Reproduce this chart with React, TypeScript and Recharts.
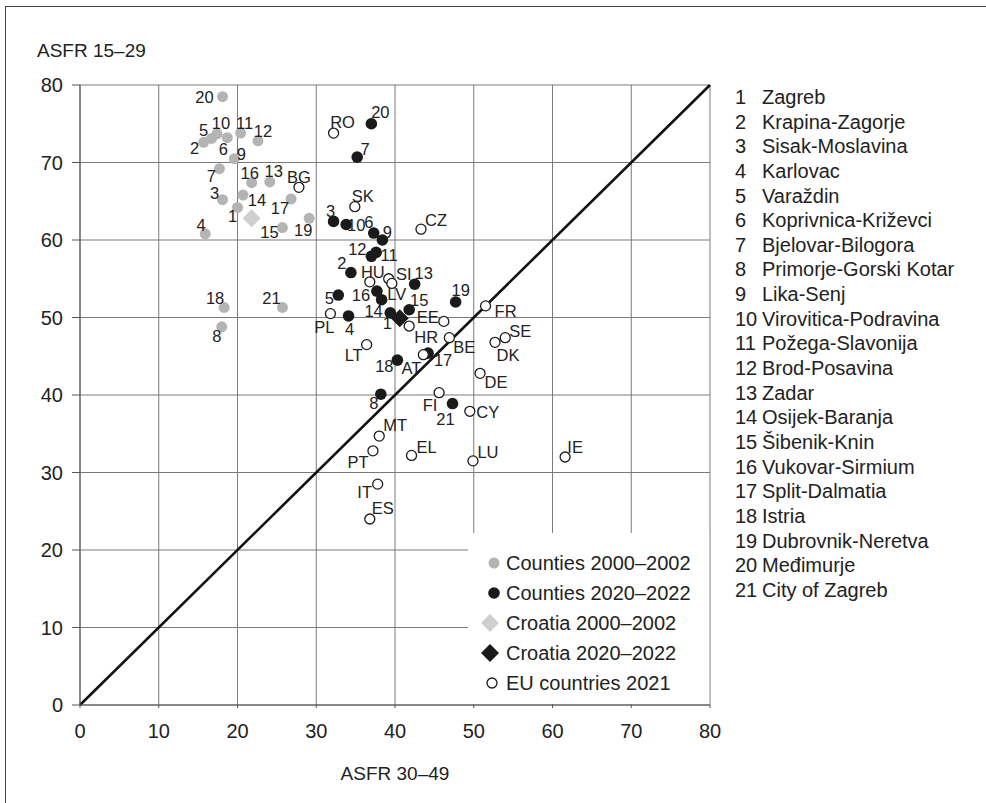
import React from 'react';
import { CartesianGrid, ReferenceLine, Scatter, ScatterChart, XAxis, YAxis } from 'recharts';

const FONT = '"Liberation Sans", Arial, Helvetica, sans-serif';

// counties, numbered 1..21 in this order
const countyNames = [
  'Zagreb', 'Krapina-Zagorje', 'Sisak-Moslavina', 'Karlovac', 'Varaždin',
  'Koprivnica-Križevci', 'Bjelovar-Bilogora', 'Primorje-Gorski Kotar', 'Lika-Senj',
  'Virovitica-Podravina', 'Požega-Slavonija', 'Brod-Posavina', 'Zadar', 'Osijek-Baranja',
  'Šibenik-Knin', 'Vukovar-Sirmium', 'Split-Dalmatia', 'Istria', 'Dubrovnik-Neretva',
  'Međimurje', 'City of Zagreb'
];

// ASFR 30–49 (x) and ASFR 15–29 (y), counties 2000–2002
const asfr3049Old = [20.0, 15.7, 18.1, 15.9, 16.7, 18.7, 17.7, 18.0, 19.6, 17.4, 20.4, 22.6, 24.1, 20.7, 25.7, 21.8, 26.8, 18.3, 29.1, 18.1, 25.7];
const asfr1529Old = [64.2, 72.6, 65.2, 60.8, 73.1, 73.2, 69.2, 48.8, 70.5, 73.7, 73.8, 72.8, 67.5, 65.8, 61.6, 67.4, 65.3, 51.3, 62.8, 78.5, 51.3];

// counties 2020–2022
const asfr3049New = [39.4, 34.4, 32.2, 34.1, 32.8, 37.3, 35.2, 38.2, 38.4, 33.8, 37.6, 37.0, 42.5, 38.3, 41.8, 37.7, 44.2, 40.3, 47.7, 37.0, 47.3];
const asfr1529New = [50.6, 55.8, 62.4, 50.2, 52.9, 60.9, 70.7, 40.1, 60.0, 62.0, 58.4, 57.9, 54.3, 52.3, 51.0, 53.4, 45.4, 44.5, 52.0, 75.0, 38.9];

// Croatia totals
const croatiaOld = { x: 21.8, y: 62.8 };
const croatiaNew = { x: 40.6, y: 49.9 };

// EU countries 2021
const euCodes = ['RO', 'BG', 'SK', 'CZ', 'HU', 'SI', 'LV', 'PL', 'EE', 'HR', 'FR', 'BE', 'SE', 'DK', 'LT', 'AT', 'DE', 'FI', 'CY', 'MT', 'PT', 'EL', 'LU', 'IE', 'IT', 'ES'];
const euAsfr3049 = [32.2, 27.8, 34.9, 43.3, 36.8, 39.2, 39.6, 31.8, 46.2, 41.8, 51.5, 46.9, 54.0, 52.7, 36.4, 43.6, 50.8, 45.6, 49.5, 38.0, 37.2, 42.1, 49.9, 61.6, 37.8, 36.8];
const euAsfr1529 = [73.8, 66.8, 64.3, 61.4, 54.6, 55.0, 54.4, 50.5, 49.5, 48.9, 51.5, 47.4, 47.4, 46.8, 46.5, 45.2, 42.8, 40.3, 37.9, 34.7, 32.8, 32.2, 31.5, 32.0, 28.5, 24.0];

const ticks = [0, 10, 20, 30, 40, 50, 60, 70, 80];

// where each point label sits relative to its marker (px)
const oldLabelPos: Record<string, [number, number]> = {
  '1': [-5, 9], '2': [-9, 6], '3': [-8, -7], '4': [-4, -9], '5': [-8, -8], '6': [-4, 11],
  '7': [-8, 7], '8': [-5, 9], '9': [7, -5], '10': [4, -11], '11': [4, -10], '12': [5, -10],
  '13': [4, -11], '14': [14, 5], '15': [-13, 4], '16': [-2, -10], '17': [-11, 9], '18': [-9, -9],
  '19': [-6, 12], '20': [-18, 0], '21': [-11, -9]
};
const newLabelPos: Record<string, [number, number]> = {
  '1': [-3, 10], '2': [-9, -10], '3': [-3, -10], '4': [1, 13], '5': [-9, 3], '6': [-5, -11],
  '7': [8, -8], '8': [-7, 9], '9': [5, -8], '10': [10, 0], '11': [13, 3], '12': [-14, -7],
  '13': [9, -11], '14': [-8, 11], '15': [10, -10], '16': [-16, 4], '17': [15, 7], '18': [-13, 6],
  '19': [5, -12], '20': [9, -12], '21': [-7, 15]
};
const euLabelPos: Record<string, [number, number]> = {
  RO: [9, -11], BG: [0, -10], SK: [8, -11], CZ: [15, -9], HU: [3, -10], SI: [15, -5],
  LV: [5, 11], PL: [-6, 13], EE: [-16, -4], HR: [17, 11], FR: [20, 5], BE: [15, 9],
  SE: [15, -7], DK: [13, 13], LT: [-13, 10], AT: [-12, 13], DE: [16, 9], FI: [-9, 12],
  CY: [18, 1], MT: [16, -11], PT: [-15, 11], EL: [15, -8], LU: [15, -9], IE: [10, -10],
  IT: [-13, 8], ES: [13, -11]
};

const countiesOld = asfr3049Old.map((x, i) => ({ x, y: asfr1529Old[i], label: String(i + 1) }));
const countiesNew = asfr3049New.map((x, i) => ({ x, y: asfr1529New[i], label: String(i + 1) }));
const euCountries = euAsfr3049.map((x, i) => ({ x, y: euAsfr1529[i], label: euCodes[i] }));

const GREY = '#b4b4b4';
const BLACK = '#1a1a1a';

function pointLabel(cx: number, cy: number, text: string, pos?: [number, number]) {
  if (!pos) return null;
  return (
    <text
      x={cx + pos[0]}
      y={cy + pos[1]}
      textAnchor='middle'
      dominantBaseline='central'
      fontSize={16.5}
      fontFamily={FONT}
      fill='#222'
    >
      {text}
    </text>
  );
}

const dotShape = (fill: string, r: number, labels: Record<string, [number, number]>) => (props: any) => {
  const { cx, cy, payload } = props;
  return (
    <g>
      <circle cx={cx} cy={cy} r={r} fill={fill} />
      {pointLabel(cx, cy, payload.label, labels[payload.label])}
    </g>
  );
};

const openShape = (props: any) => {
  const { cx, cy, payload } = props;
  return (
    <g>
      <circle cx={cx} cy={cy} r={5} fill='#fff' stroke={BLACK} strokeWidth={1.3} />
      {pointLabel(cx, cy, payload.label, euLabelPos[payload.label])}
    </g>
  );
};

const diamondShape = (fill: string) => (props: any) => {
  const { cx, cy } = props;
  const h = 9;
  return <polygon points={`${cx},${cy - h} ${cx + h},${cy} ${cx},${cy + h} ${cx - h},${cy}`} fill={fill} />;
};

function LegendBox() {
  const rows = [
    { text: 'Counties 2000–2002', icon: <circle cx={8} cy={8} r={5.5} fill={GREY} /> },
    { text: 'Counties 2020–2022', icon: <circle cx={8} cy={8} r={5.8} fill={BLACK} /> },
    { text: 'Croatia 2000–2002', icon: <polygon points='4,-1 13,8 4,17 -5,8' fill='#cfcfcf' /> },
    { text: 'Croatia 2020–2022', icon: <polygon points='4,-1 13,8 4,17 -5,8' fill={BLACK} /> },
    { text: 'EU countries 2021', icon: <circle cx={6} cy={8} r={5} fill='#fff' stroke={BLACK} strokeWidth={1.3} /> }
  ];
  return (
    <div
      style={{
        position: 'absolute',
        left: 468,
        top: 533,
        width: 241,
        height: 171,
        background: '#fff',
        borderRight: '1px solid #c8c8c8'
      }}
    >
      {rows.map((r, i) => (
        <div
          key={r.text}
          style={{
            position: 'absolute',
            left: 18,
            top: 18 + i * 30,
            height: 24,
            display: 'flex',
            alignItems: 'center',
            fontFamily: FONT,
            fontSize: 20,
            color: '#222',
            whiteSpace: 'nowrap'
          }}
        >
          <svg width={18} height={16} style={{ overflow: 'visible', marginRight: 2 }}>
            {r.icon}
          </svg>
          {r.text}
        </div>
      ))}
    </div>
  );
}

export default function App() {
  return (
    <div style={{ position: 'absolute', left: 0, top: 0, width: 986, height: 803, background: '#fff', overflow: 'hidden' }}>
      <div
        style={{
          position: 'absolute',
          left: 5,
          top: 6,
          width: 1000,
          height: 820,
          borderLeft: '1.5px solid #444',
          borderTop: '1.5px solid #444'
        }}
      />
      <ScatterChart
        width={986}
        height={803}
        margin={{ top: 85, right: 276, bottom: 58, left: 30 }}
        style={{ position: 'absolute', left: 0, top: 0 }}
      >
        <CartesianGrid stroke='#7a7a7a' strokeWidth={1} horizontalValues={ticks} verticalValues={ticks} />
        <XAxis
          type='number'
          dataKey='x'
          domain={[0, 80]}
          ticks={ticks}
          height={40}
          tickSize={3}
          tickMargin={16}
          stroke='#555'
          tick={{ fontSize: 20, fill: '#222', fontFamily: FONT }}
        />
        <YAxis
          type='number'
          dataKey='y'
          domain={[0, 80]}
          ticks={ticks}
          width={50}
          tickSize={8}
          tickMargin={9}
          stroke='#555'
          tick={{ fontSize: 20, fill: '#222', fontFamily: FONT }}
        />
        <ReferenceLine
          segment={[{ x: 0, y: 0 }, { x: 80, y: 80 }]}
          stroke='#111'
          strokeWidth={2.6}
          ifOverflow='visible'
        />
        <Scatter data={countiesOld} shape={dotShape(GREY, 5.5, oldLabelPos)} isAnimationActive={false} />
        <Scatter data={[croatiaOld]} shape={diamondShape('#cfcfcf')} isAnimationActive={false} />
        <Scatter data={countiesNew} shape={dotShape(BLACK, 5.8, newLabelPos)} isAnimationActive={false} />
        <Scatter data={euCountries} shape={openShape} isAnimationActive={false} />
        <Scatter data={[croatiaNew]} shape={diamondShape(BLACK)} isAnimationActive={false} />
      </ScatterChart>
      <LegendBox />
      <div style={{ position: 'absolute', left: 37, top: 40, fontFamily: FONT, fontSize: 19, color: '#222' }}>
        ASFR 15–29
      </div>
      <div
        style={{
          position: 'absolute',
          left: 295,
          width: 200,
          top: 763,
          textAlign: 'center',
          fontFamily: FONT,
          fontSize: 19,
          color: '#222'
        }}
      >
        ASFR 30–49
      </div>
      <div style={{ position: 'absolute', left: 735, top: 85, fontFamily: FONT, fontSize: 20, color: '#222' }}>
        {countyNames.map((name, i) => (
          <div key={name} style={{ height: 24.65, lineHeight: '24.65px', whiteSpace: 'nowrap', position: 'relative' }}>
            <span>{i + 1}</span>
            <span style={{ position: 'absolute', left: 27 }}>{name}</span>
          </div>
        ))}
      </div>
    </div>
  );
}
